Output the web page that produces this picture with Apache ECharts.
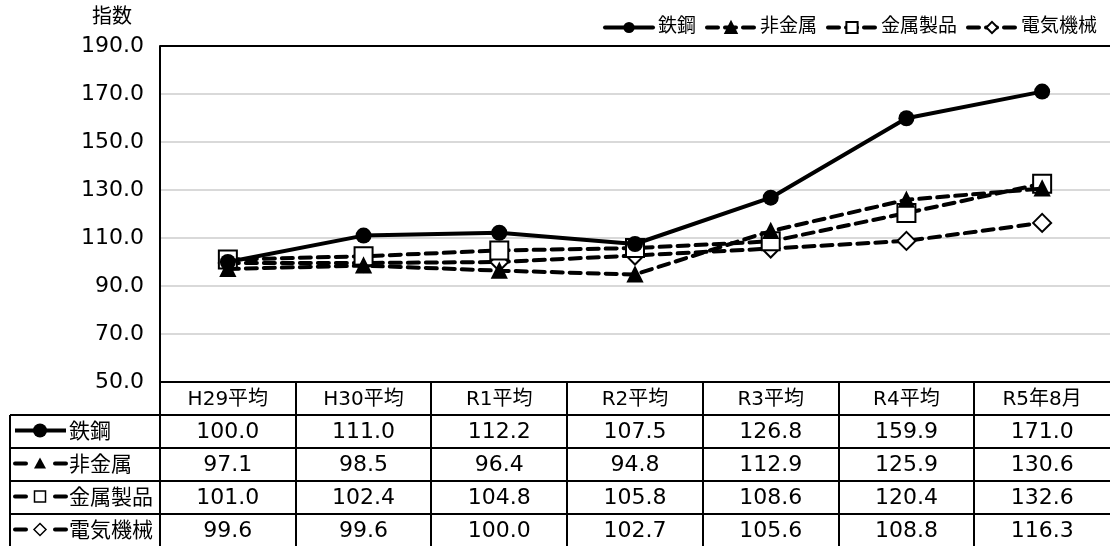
<!DOCTYPE html>
<html><head><meta charset="utf-8">
<script src="https://cdn.jsdelivr.net/npm/echarts@6/dist/echarts.min.js"></script>
<style>html,body{margin:0;padding:0;background:#fff}#c{width:1110px;height:546px}</style>
</head><body><div id="c"></div>
<script>
const categories = ['H29平均','H30平均','R1平均','R2平均','R3平均','R4平均','R5年8月'];
const seriesNames = ['鉄鋼','非金属','金属製品','電気機械'];
const tekko = [100.0,111.0,112.2,107.5,126.8,159.9,171.0];
const hikinzoku = [97.1,98.5,96.4,94.8,112.9,125.9,130.6];
const kinzokuSeihin = [101.0,102.4,104.8,105.8,108.6,120.4,132.6];
const denkiKikai = [99.6,99.6,100.0,102.7,105.6,108.8,116.3];
const yTicks = [50,70,90,110,130,150,170,190];

const FONT = '"DejaVu Sans", "Noto Sans CJK JP", sans-serif';
const allData = [tekko, hikinzoku, kinzokuSeihin, denkiKikai];
const styles = [
  {symbol:'circle', size:16, fill:'#000', type:'solid'},
  {symbol:'triangle', size:14, fill:'#000', type:[11,7]},
  {symbol:'rect', size:18, fill:'#fff', type:[11,7]},
  {symbol:'diamond', size:18, fill:'#fff', type:[11,7]}
];

const G = {left:160, top:46, right:0, bottom:164};
const chart = echarts.init(document.getElementById('c'), null, {renderer:'canvas'});

const series = seriesNames.map((n,i)=>({
  name:n, type:'line', data:allData[i],
  symbol:styles[i].symbol, symbolSize:styles[i].size,
  lineStyle:{color:'#000', width:4, type:styles[i].type, cap:'round'},
  itemStyle:{color:styles[i].fill, borderColor:'#000', borderWidth:i===0?0:2},
  z: 10 - i, animation:false
}));

chart.setOption({
  animation:false,
  textStyle:{fontFamily:FONT},
  grid:{left:G.left, top:G.top, right:G.right, bottom:G.bottom},
  legend:{top:13, right:8, itemWidth:48, itemHeight:14, itemGap:9,
    textStyle:{fontSize:19, color:'#000', fontFamily:FONT},
    lineStyle:{width:4},
    data:seriesNames},
  xAxis:{type:'category', data:categories, boundaryGap:true,
    axisLine:{show:false}, axisTick:{show:false}, axisLabel:{show:false}},
  yAxis:{type:'value', min:yTicks[0], max:yTicks[yTicks.length-1], interval:20,
    axisLine:{show:true, lineStyle:{color:'#000', width:2}},
    axisTick:{show:false},
    splitLine:{show:true, lineStyle:{color:'#d9d9d9', width:2}},
    axisLabel:{fontSize:22, color:'#000', margin:16, fontFamily:FONT,
      formatter:v=>v.toFixed(1)}},
  series:series
});

// Build table + annotations
const W = chart.getWidth();
const plotRight = W - G.right;
const plotBottom = chart.getHeight() - G.bottom;
const rowH = 33;
const labelLeft = 10;
const n = categories.length;
const colW = (plotRight - G.left)/n;
const els = [];
const line = (x1,y1,x2,y2,w)=>els.push({type:'line', shape:{x1,y1,x2,y2}, style:{stroke:'#000', lineWidth:w||2}, z:100});

// "指数"
els.push({type:'text', x:92, y:8, style:{text:'指数', font:'20px '+FONT, fill:'#000'}, z:100});
// top border
line(G.left, G.top, plotRight, G.top, 2);
// horizontal lines
line(G.left, plotBottom, plotRight, plotBottom, 2);
for(let r=1;r<=4;r++){ line(labelLeft, plotBottom + r*rowH, plotRight, plotBottom + r*rowH, 2); }
// verticals
line(labelLeft, plotBottom+rowH, labelLeft, plotBottom+5*rowH+2, 2);
for(let c=0;c<n;c++){ const x = Math.round(G.left + c*colW); line(x, plotBottom, x, plotBottom+5*rowH+2, 2); }
// header
categories.forEach((cat,c)=>{
  const cx = chart.convertToPixel({xAxisIndex:0}, cat);
  els.push({type:'text', x:cx, y:plotBottom+rowH/2+1, style:{text:cat, font:'20px '+FONT, fill:'#000', align:'center', verticalAlign:'middle'}, z:100});
});
// rows
seriesNames.forEach((name,r)=>{
  const cy = plotBottom + (r+1)*rowH + rowH/2 + 1;
  allData[r].forEach((v,c)=>{
    const cx = chart.convertToPixel({xAxisIndex:0}, categories[c]);
    els.push({type:'text', x:cx, y:cy, style:{text:v.toFixed(1), font:'22px '+FONT, fill:'#000', align:'center', verticalAlign:'middle'}, z:100});
  });
  // symbol key
  const st = styles[r];
  const my = cy-2;
  if(r===0){
    els.push({type:'line', shape:{x1:15,y1:my,x2:66,y2:my}, style:{stroke:'#000', lineWidth:4}, z:100});
  } else {
    els.push({type:'line', shape:{x1:15,y1:my,x2:26,y2:my}, style:{stroke:'#000', lineWidth:4, lineCap:'round'}, z:100});
    els.push({type:'line', shape:{x1:55,y1:my,x2:66,y2:my}, style:{stroke:'#000', lineWidth:4, lineCap:'round'}, z:100});
  }
  const mx = 40;
  if(st.symbol==='circle') els.push({type:'circle', shape:{cx:mx, cy:my, r:7}, style:{fill:'#000'}, z:101});
  if(st.symbol==='triangle') els.push({type:'polygon', shape:{points:[[mx,my-6],[mx+6,my+5],[mx-6,my+5]]}, style:{fill:'#000'}, z:101});
  if(st.symbol==='rect') els.push({type:'rect', shape:{x:mx-5.5,y:my-5.5,width:11,height:11}, style:{fill:'#fff', stroke:'#000', lineWidth:1.5}, z:101});
  if(st.symbol==='diamond') els.push({type:'polygon', shape:{points:[[mx,my-6],[mx+6,my],[mx,my+6],[mx-6,my]]}, style:{fill:'#fff', stroke:'#000', lineWidth:1.5}, z:101});
  els.push({type:'text', x:69, y:cy, style:{text:name, font:'21px '+FONT, fill:'#000', verticalAlign:'middle'}, z:100});
});
chart.setOption({graphic:{elements:els}});
</script>
</body></html>
